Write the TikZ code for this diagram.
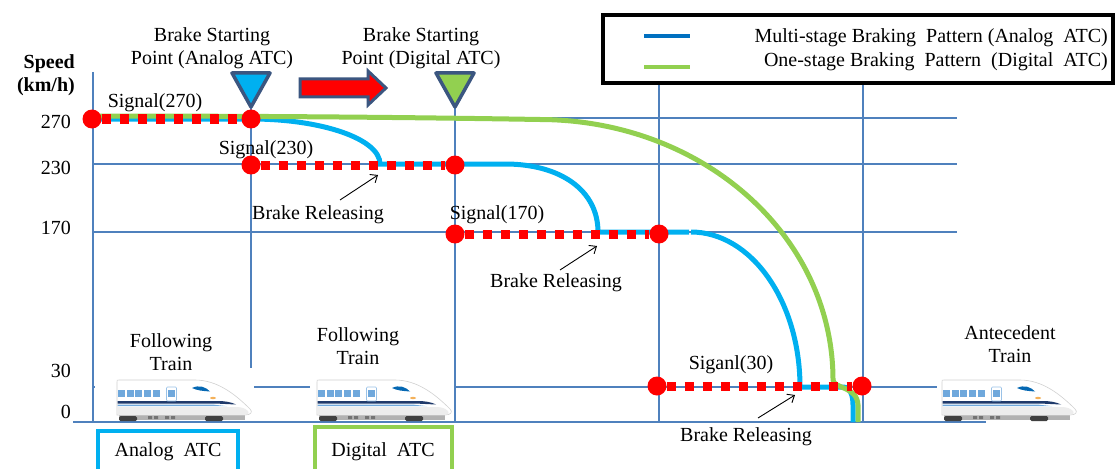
\documentclass[tikz,border=0pt]{standalone}
\usepackage{fontspec}
\setmainfont{Liberation Serif}
\usetikzlibrary{arrows.meta}

\definecolor{gridblue}{RGB}{79,129,189}
\definecolor{analog}{RGB}{0,176,240}
\definecolor{digital}{RGB}{146,208,80}
\definecolor{legblue}{RGB}{0,112,192}
\definecolor{slate}{RGB}{59,86,128}
\definecolor{winblue}{RGB}{111,168,220}
\definecolor{navy}{RGB}{31,58,107}
\definecolor{lamp}{RGB}{244,177,90}

\tikzset{
  gridline/.style={gridblue, line width=1.3pt},
  lbl/.style={font=\fontsize{20}{23}\selectfont, inner sep=0pt, align=center},
  multi/.style={analog, line width=5pt},
  single/.style={digital, line width=5pt},
  sigdash/.style={red, line width=9pt, dash pattern=on 9pt off 9pt},
  sigdot/.style={circle, fill=red, minimum size=19pt, inner sep=0pt},
  marker/.style={draw=slate, line width=3.5pt, line join=round},
  relarrow/.style={black, line width=0.9pt, -{Straight Barb[length=6pt,width=10pt]}},
  train/.pic={
    % running gear
    \fill[black!30] (2,34) rectangle (128,40);
    \fill[black!75, rounded corners=1.5pt] (2,36) rectangle (20,41);
    \fill[black!75, rounded corners=1.5pt] (88,36) rectangle (106,41);
    \fill[black!55] (31,36) rectangle (35,39) (37,36) rectangle (41,39)
                    (48,36) rectangle (52,39) (54,36) rectangle (58,39);
    % car body with long nose
    \fill[white, draw=black!18, line width=0.6pt]
      (0,2) .. controls (0,0) .. (2,0) -- (78,0)
      .. controls (100,0) and (118,14) .. (133,29)
      .. controls (136,32) and (134,35) .. (128,35) -- (0,35) -- cycle;
    \fill[black!7] (0.5,27) -- (121,27) .. controls (127,28) .. (131,31)
      .. controls (132,34) .. (128,34.5) -- (0.5,34.5) -- cycle;
    % side stripes
    \fill[navy] (0.5,21) -- (100,21) .. controls (108,21) and (114,22) .. (119,24.5)
      -- (100,23.6) -- (0.5,23.6) -- cycle;
    \fill[winblue] (0.5,24.6) -- (96,24.6) -- (110,26.2) -- (0.5,26.2) -- cycle;
    % windows and door
    \foreach \u in {1,9.7,18.4,27.1,35.8}
      \fill[winblue] (\u,10) rectangle +(7,6.6);
    \draw[winblue!70, line width=0.6pt, rounded corners=1pt] (49.5,7) rectangle (59.5,21);
    \fill[winblue] (51,10) rectangle (58,16.6);
    % cockpit window and lamp
    \fill[legblue!85!navy] (75,8) .. controls (82,4.5) and (89,7) .. (93,11.5)
      .. controls (86,11) and (80,10.5) .. cycle;
    \fill[lamp] (96,18) ellipse (3 and 1.2);
  }
}

\begin{document}
\begin{tikzpicture}[x=1pt, y=-1pt]
\useasboundingbox (0,0) rectangle (1115,468);
\clip (0,0) rectangle (1115,468);

% ---- grid ----
\foreach \gx in {93,251,455,659,863}
  \draw[gridline] (\gx,72) -- (\gx,422);
\foreach \gy in {118,164,232}
  \draw[gridline] (92,\gy) -- (957,\gy);
\draw[gridline] (92,387) -- (937,387);
\draw[gridline] (73,422) -- (986,422);

% white backgrounds of the train pictures
\fill[white] (95,368) rectangle (254,421);
\fill[white] (310,368) rectangle (454,421);

% ---- axis labels ----
\node[lbl, anchor=east, align=right] (unit) at (75,75) {\textbf{Speed}\\\textbf{(km/h)}};
\node[lbl, anchor=east] (v270) at (71,122) {270};
\node[lbl, anchor=east] (v230) at (71,168) {230};
\node[lbl, anchor=east] (v170) at (71,228) {170};
\node[lbl, anchor=east] (v30)  at (71,371) {30};
\node[lbl, anchor=east] (v0)   at (71,412) {0};

% ---- multi-stage braking pattern ----
\draw[multi] (93,119) -- (251,119)
  .. controls (322,119) and (380,139) .. (380,164) -- (505,164)
  .. controls (560,164) and (598,190) .. (598,232) -- (689,232);
\draw[multi] (691,232) .. controls (751,232) and (800,301) .. (800,387) -- (843,387)
  .. controls (850,387) and (853,395) .. (853,405) -- (853,422);

% ---- one-stage braking pattern ----
\draw[single] (93,116) .. controls (300,116) and (450,118) .. (540,119.5)
  .. controls (703,120) and (833,236) .. (833,380)
  .. controls (834,389) and (857,386) .. (858,405) -- (858,422);

% ---- signals ----
\node[sigdot] (s1a) at (92,119) {};
\node[sigdot] (s1b) at (251,119) {};
\node[sigdot] (s2a) at (251,165) {};
\node[sigdot] (s2b) at (455,165) {};
\node[sigdot] (s3a) at (455,234) {};
\node[sigdot] (s3b) at (659,234) {};
\node[sigdot] (s4a) at (657,386) {};
\node[sigdot] (s4b) at (862,386) {};
\draw[sigdash] (s1a) -- (s1b);
\draw[sigdash] (s2a) -- (s2b);
\draw[sigdash] (s3a) -- (s3b);
\draw[sigdash] (s4a) -- (s4b);

\node[lbl] (sig270) at (155,103) {Signal(270)};
\node[lbl] (sig230) at (266,150) {Signal(230)};
\node[lbl] (sig170) at (497,215) {Signal(170)};
\node[lbl] (sig30)  at (731,365) {Siganl(30)};

% ---- brake releasing notes ----
\node[lbl] (rel1) at (318,215) {Brake Releasing};
\node[lbl] (rel2) at (556,283) {Brake Releasing};
\node[lbl] (rel3) at (746,437) {Brake Releasing};
\coordinate (r1s) at (340,200); \coordinate (r1e) at (378,175);
\coordinate (r2s) at (560,270); \coordinate (r2e) at (597,246);
\coordinate (r3s) at (758,418); \coordinate (r3e) at (795,395);
\draw[relarrow] (r1s) -- (r1e);
\draw[relarrow] (r2s) -- (r2e);
\draw[relarrow] (r3s) -- (r3e);

% ---- brake starting points ----
\node[lbl] (bsa) at (212,48) {Brake Starting\\Point (Analog ATC)};
\node[lbl] (bsd) at (421,48) {Brake Starting\\Point (Digital ATC)};
\draw[marker, fill=analog] (232,73) -- (270,73) -- (251,107) -- cycle;
\draw[marker, fill=digital] (436,73) -- (474,73) -- (455,107) -- cycle;
\draw[draw=slate, line width=3pt, line join=miter, fill=red]
  (300,79) -- (368,79) -- (368,71) -- (386,88) -- (368,105) -- (368,97) -- (300,97) -- cycle;

% ---- trains ----
\node[lbl] (ft1) at (171,352) {Following\\Train};
\node[lbl] (ft2) at (358,346) {Following\\Train};
\node[lbl] (at)  at (1010,344) {Antecedent\\Train};
\pic (tr1) at (117,380) {train};
\pic (tr2) at (317,380) {train};
\pic (tr3) at (942,380) {train};

% ---- system boxes ----
\node[lbl, draw=analog, line width=4pt, minimum width=140pt, minimum height=42pt] (boxa) at (168,452) {Analog\ \ ATC};
\node[lbl, draw=digital, line width=4pt, minimum width=137pt, minimum height=50pt] (boxd) at (383,452) {Digital\ \ ATC};

% ---- legend ----
\node[draw=black, line width=3.5pt, fill=white, minimum width=510pt, minimum height=68pt,
      inner sep=0pt] (legend) at (858,49) {};
\coordinate (lg1a) at (644,36); \coordinate (lg1b) at (690,36);
\coordinate (lg2a) at (644,67); \coordinate (lg2b) at (690,67);
\draw[legblue, line width=4pt] (lg1a) -- (lg1b);
\draw[digital, line width=4pt] (lg2a) -- (lg2b);
\node[lbl, anchor=east] (leg1) at (1108,38) {Multi-stage\ Braking\ \ Pattern\ (Analog\ \ ATC)};
\node[lbl, anchor=east] (leg2) at (1108,62) {One-stage\ Braking\ \ Pattern\ \ (Digital\ \ ATC)};
\end{tikzpicture}
\end{document}
